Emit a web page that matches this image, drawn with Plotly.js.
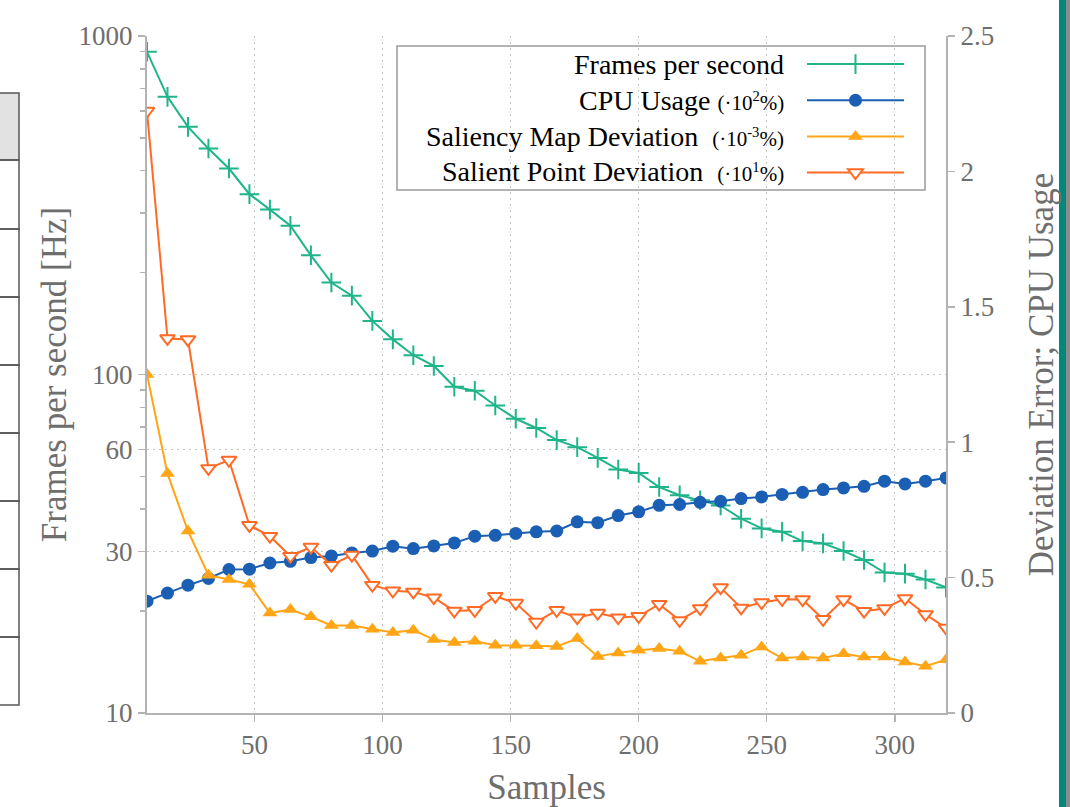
<!DOCTYPE html>
<html>
<head>
<meta charset="utf-8">
<script src="https://cdn.plot.ly/plotly-3.0.1.min.js"></script>
<style>
  html, body { margin: 0; padding: 0; background: #ffffff; }
  #chart { width: 1070px; height: 807px; }
</style>
</head>
<body>
<div id="chart"></div>
<script>
// ---- data ----
const samples = [8, 16, 24, 32, 40, 48, 56, 64, 72, 80, 88, 96, 104, 112, 120, 128, 136, 144, 152, 160,
                 168, 176, 184, 192, 200, 208, 216, 224, 232, 240, 248, 256, 264, 272, 280, 288, 296, 304, 312, 320];

const framesPerSecond = [898, 661, 539, 465, 406, 341, 307, 275, 225, 187, 171, 144, 127, 114, 106, 92, 89.5, 81, 74, 69.5,
                         64, 61, 56.7, 52.4, 51.2, 46.5, 44, 42.5, 41, 37.5, 35.1, 34.3, 32.2, 31.7, 30.1, 28.3, 26, 25.8, 24.8, 23.5];

const cpuUsage = [0.413, 0.443, 0.472, 0.497, 0.530, 0.531, 0.554, 0.560, 0.574, 0.580, 0.591, 0.598, 0.616, 0.607,
                  0.617, 0.628, 0.653, 0.656, 0.663, 0.669, 0.672, 0.706, 0.703, 0.729, 0.743, 0.767, 0.770, 0.778, 0.782,
                  0.792, 0.798, 0.807, 0.815, 0.825, 0.831, 0.837, 0.856, 0.846, 0.856, 0.868];

const saliencyMapDeviation = [1.250, 0.884, 0.672, 0.509, 0.493, 0.475, 0.369, 0.382, 0.355, 0.323, 0.323, 0.309, 0.297, 0.306,
                              0.271, 0.260, 0.265, 0.250, 0.250, 0.248, 0.246, 0.275, 0.209, 0.222, 0.232, 0.238, 0.228, 0.191, 0.203,
                              0.213, 0.244, 0.203, 0.207, 0.203, 0.219, 0.207, 0.207, 0.188, 0.173, 0.197];

const salientPointDeviation = [2.223, 1.383, 1.379, 0.903, 0.934, 0.693, 0.653, 0.579, 0.613, 0.546, 0.583, 0.472, 0.451, 0.447,
                               0.426, 0.377, 0.379, 0.431, 0.406, 0.336, 0.379, 0.352, 0.369, 0.352, 0.357, 0.402, 0.342, 0.386, 0.463,
                               0.388, 0.408, 0.420, 0.419, 0.346, 0.419, 0.376, 0.386, 0.423, 0.364, 0.314];

const seriesNames = ['Frames per second', 'CPU Usage', 'Saliency Map Deviation', 'Salient Point Deviation'];
const seriesScales = ['', '(·10<sup>2</sup>%)', '(·10<sup>-3</sup>%)', '(·10<sup>1</sup>%)'];

const xTickVals = [50, 100, 150, 200, 250, 300];
const yLeftTickVals = [10, 30, 60, 100, 1000];
const yLeftMinorVals = [20, 40, 50, 70, 80, 90, 200, 300, 400, 500, 600, 700, 800, 900];
const yRightTickVals = [0, 0.5, 1, 1.5, 2, 2.5];

const xTitle = 'Samples';
const yLeftTitle = 'Frames per second [Hz]';
const yRightTitle = 'Deviation Error; CPU Usage';

// ---- style ----
const FONT = 'Liberation Serif';
const GREY = '#6e6e6e';
const AXIS = '#b3b3b3';
const GRID = '#c4c4c4';
const GRIDDASH = '2px,4px';
const colors = ['#1fb48a', '#1a5fb4', '#ffa516', '#ff6a24'];

const W = 1070, H = 807;
const M = { l: 147, r: 124, t: 36, b: 94 };
const PW = W - M.l - M.r, PH = H - M.t - M.b;
const px = p => (p - M.l) / PW;
const py = p => (H - M.b - p) / PH;

const traces = [
  {
    x: samples, y: framesPerSecond, name: '', type: 'scatter', mode: 'lines+markers',
    yaxis: 'y', line: { color: colors[0], width: 2 },
    marker: { symbol: 'cross-thin', size: 14, color: colors[0], line: { color: colors[0], width: 2 } }
  },
  {
    x: samples, y: cpuUsage, name: '', type: 'scatter', mode: 'lines+markers',
    yaxis: 'y2', line: { color: colors[1], width: 2 },
    marker: { symbol: 'circle', size: 13, color: colors[1] }
  },
  {
    x: samples, y: saliencyMapDeviation, name: '', type: 'scatter', mode: 'lines+markers',
    yaxis: 'y2', line: { color: colors[2], width: 2 },
    marker: { symbol: 'triangle-up', size: 13, color: colors[2] }
  },
  {
    x: samples, y: salientPointDeviation, name: '', type: 'scatter', mode: 'lines+markers',
    yaxis: 'y2', line: { color: colors[3], width: 2 },
    marker: { symbol: 'triangle-down', size: 13, color: '#ffffff', line: { color: colors[3], width: 2 } }
  }
];

// legend text as annotations (right aligned, symbols drawn by the native legend to the right)
const rowY = [64.5, 100.3, 136.1, 171.9];
const annotations = seriesNames.map((n, i) => ({
  xref: 'paper', yref: 'paper', x: px(786), y: py(rowY[i]),
  xanchor: 'right', yanchor: 'middle', showarrow: false,
  text: seriesScales[i] ? n + (i >= 2 ? '&nbsp;&nbsp;' : '&nbsp;') + '<span style="font-size:21px">' + seriesScales[i] + '</span>' : n,
  font: { family: FONT, size: 28, color: '#000000' }
}));

const shapes = [
  // legend box
  { type: 'rect', xref: 'paper', yref: 'paper', x0: px(397), x1: px(925), y0: py(190), y1: py(46),
    line: { color: '#9a9a9a', width: 1.5 }, fillcolor: '#ffffff', layer: 'between' },
  // teal frame bar at right of the screenshot
  { type: 'rect', xref: 'paper', yref: 'paper', x0: px(1059), x1: px(1066), y0: py(H), y1: py(0),
    line: { width: 0 }, fillcolor: '#00897b', layer: 'above' },
  { type: 'rect', xref: 'paper', yref: 'paper', x0: px(1066), x1: px(1071), y0: py(H), y1: py(0),
    line: { width: 0 }, fillcolor: '#8c8c8c', layer: 'above' }
];
// table fragment at the left of the screenshot
const rowsEdges = [93, 160, 229, 297, 365, 433, 501, 569, 637, 705];
for (let i = 0; i < rowsEdges.length - 1; i++) {
  shapes.push({ type: 'rect', xref: 'paper', yref: 'paper', x0: px(-5), x1: px(19),
    y0: py(rowsEdges[i + 1]), y1: py(rowsEdges[i]),
    line: { color: '#555555', width: 1.5 }, fillcolor: i === 0 ? '#e2e2e2' : 'rgba(0,0,0,0)', layer: 'above' });
}

const axisCommon = {
  showline: true, linecolor: AXIS, linewidth: 2,
  ticks: 'outside', tickcolor: AXIS, tickwidth: 1.5, ticklen: 7,
  tickfont: { family: FONT, size: 27, color: GREY },
  zeroline: false, automargin: false
};

const layout = {
  width: W, height: H,
  margin: M,
  paper_bgcolor: '#ffffff', plot_bgcolor: '#ffffff',
  font: { family: FONT, color: GREY },
  showlegend: true,
  legend: {
    x: px(802), y: py(41), xanchor: 'left', yanchor: 'top',
    bgcolor: 'rgba(0,0,0,0)', borderwidth: 0,
    font: { family: FONT, size: 25.5, color: '#111' },
    itemwidth: 97, tracegroupgap: 0, traceorder: 'normal'
  },
  xaxis: Object.assign({}, axisCommon, {
    range: [8, 320], tickmode: 'array', tickvals: xTickVals,
    showgrid: true, gridcolor: GRID, griddash: GRIDDASH, gridwidth: 1,
    title: { text: xTitle, font: { family: FONT, size: 35, color: GREY }, standoff: 26 }
  }),
  yaxis: Object.assign({}, axisCommon, {
    type: 'log', range: [1, 3], tickmode: 'array', tickvals: yLeftTickVals, ticktext: yLeftTickVals.map(String),
    showgrid: true, gridcolor: GRID, griddash: GRIDDASH, gridwidth: 1,
    minor: { tickmode: 'array', tickvals: yLeftMinorVals, ticks: 'outside', ticklen: 5, tickcolor: AXIS, tickwidth: 1.5, showgrid: false },
    title: { text: yLeftTitle, font: { family: FONT, size: 35, color: GREY }, standoff: 1 }
  }),
  yaxis2: Object.assign({}, axisCommon, {
    overlaying: 'y', side: 'right', range: [0, 2.5], tickmode: 'array', tickvals: yRightTickVals,
    ticktext: yRightTickVals.map(String),
    showgrid: false,
    title: { text: yRightTitle, font: { family: FONT, size: 35, color: GREY }, standoff: 35 }
  }),
  annotations: annotations,
  shapes: shapes
};

Plotly.newPlot('chart', traces, layout, { displayModeBar: false, staticPlot: true });
</script>
</body>
</html>
